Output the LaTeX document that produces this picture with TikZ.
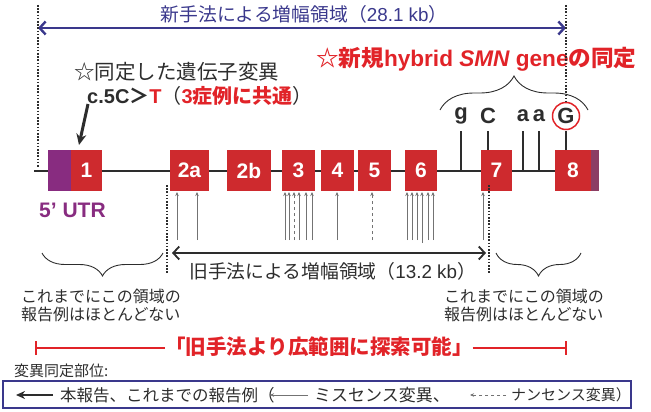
\documentclass[tikz,border=0pt]{standalone}
\usepackage{fontspec}
\setmainfont{Noto Sans CJK JP}
\newfontfamily\lib{Liberation Sans}
\usetikzlibrary{arrows.meta,decorations.pathreplacing,calc,backgrounds}
\definecolor{exred}{RGB}{206,42,46}
\definecolor{utr}{RGB}{136,44,128}
\definecolor{strip}{RGB}{140,62,100}
\definecolor{navy}{RGB}{58,56,140}
\definecolor{txtred}{RGB}{225,35,40}
\definecolor{dk}{RGB}{45,45,45}
\definecolor{mut}{RGB}{115,115,115}
\newcommand{\fs}[1]{\fontsize{#1}{#1}\selectfont}
\tikzset{mybarb/.tip={Straight Barb[length=6pt,width=13pt]}}
\begin{document}
\begin{tikzpicture}[x=1pt,y=-1pt,
  exon/.style={fill=exred,minimum height=41pt,inner sep=0pt,text=white,font=\lib\bfseries\fs{21}},
  utrbox/.style={fill=utr,minimum height=41pt,inner sep=0pt},
  stripbox/.style={fill=strip,minimum height=41pt,inner sep=0pt},
  base/.style={inner sep=0pt,text=dk},
  nt/.style={inner sep=0pt,text=dk,font=\lib\bfseries\fs{22}},
  stem/.style={dk,line width=2.4pt},
  vdots/.style={dk,line width=1.8pt,dash pattern=on 1.6pt off 1.6pt},
  mutarrow/.style={mut,line width=0.9pt,-{Stealth[length=4pt,width=3.5pt]}},
  brc/.style={dk,line width=0.9pt,decorate},
]
\useasboundingbox (0,0) rectangle (651,412);

% ---- exons ----
\node[utrbox,minimum width=23pt] (u1) at (59.5,170.5) {};
\node[exon,minimum width=31pt] (e1) at (86.5,170.5) {1};
\node[exon,minimum width=39pt] (e2a) at (189.5,170.5) {2a};
\node[exon,minimum width=44pt] (e2b) at (249,170.5) {2b};
\node[exon,minimum width=33pt] (e3) at (298.5,170.5) {3};
\node[exon,minimum width=33pt] (e4) at (337.5,170.5) {4};
\node[exon,minimum width=33pt] (e5) at (374.5,170.5) {5};
\node[exon,minimum width=32pt] (e6) at (421,170.5) {6};
\node[exon,minimum width=31pt] (e7) at (496.5,170.5) {7};
\node[exon,minimum width=36pt] (e8) at (573,170.5) {8};
\node[stripbox,minimum width=8pt] (s8) at (595,170.5) {};
\coordinate (bbL) at (34,171);
\begin{scope}[on background layer]
  \draw[dk,line width=2pt] (bbL) -- (e8.west |- bbL);
\end{scope}

% ---- top: new method ----
\coordinate (tL) at (38,5);
\coordinate (tR) at (566,5);
\node[base,text=navy,font=\fs{18.8}] (newlab) at (304,14) {新手法による増幅領域（{\lib 28.1 kb}）};
\draw[navy,line width=2.4pt,{mybarb}-{mybarb}] (38,28) -- (566,28);
\draw[vdots] (tL) -- (38,167);

% ---- identified mutation ----
\node[base,anchor=west,font=\fs{20.5}] (mut1) at (74,72) {☆同定した遺伝子変異};
\node[base,anchor=west,font=\fs{20}] (mut2) at (87,96) {{\lib\bfseries c.5C}\bfseries＞\textcolor{txtred}{\lib\bfseries T}\mdseries（\textcolor{txtred}{\bfseries{\lib 3}症例に共通}）};
\coordinate (m2a) at (88,104);
\coordinate (m2b) at (79,145);
\draw[dk,line width=3pt,-{Stealth[length=11pt,width=10pt]}] (m2a) -- (m2b);

% ---- hybrid gene ----
\node[base,anchor=west,text=txtred,font=\bfseries\fs{22.6}] (hyb) at (316,59) {☆新規{\lib\bfseries hybrid \itshape SMN\upshape\ gene}の同定};
\node[nt] (ng) at (461,116) {g};
\node[nt] (nC) at (488,116) {C};
\node[nt] (na1) at (523,116) {a};
\node[nt] (na2) at (539,116) {a};
\node[nt] (nG) at (566,116) {G};
\draw[txtred,line width=1.5pt] (nG) circle (13.5pt);
\draw[vdots] (tR) -- (566,102);
\draw[brc,decoration={brace,amplitude=34pt}] (440,110) -- (588,110);
\draw[stem] (461,131) -- (461,171);
\draw[stem] (488,131) -- (e7.north -| 488,0);
\draw[stem] (523,131) -- (523,171);
\draw[stem] (539,131) -- (539,171);
\draw[stem] (566,131) -- (e8.north -| 566,0);

% ---- 5' UTR ----
\node[base,anchor=west,text=utr,font=\lib\bfseries\fs{21}] (utrlab) at (39,210) {5’ UTR};

% ---- mutation arrows ----
\foreach \x/\st in {177/solid,197/solid,285/solid,289/solid,294/dashed,299/solid,306/solid,312/solid,337/solid,372/dashed,407/solid,412/solid,417/solid,428/solid,433/solid,483/solid}
  \draw[mutarrow,\st] (\x,240) -- (\x,192);
\draw[mutarrow] (422,243) -- (422,192);

% ---- old method ----
\draw[vdots] (167,185) -- (167,273);
\draw[vdots] (489,185) -- (489,273);
\draw[dk,line width=1.8pt,{mybarb}-{mybarb}] (172,253) -- (486,253);
\node[base,anchor=west,font=\fs{18.8}] (oldlab) at (189,271) {旧手法による増幅領域（{\lib 13.2 kb}）};

% ---- braces and notes ----
\draw[brc,decoration={brace,amplitude=23pt}] (163,253) -- (42,253);
\draw[brc,decoration={brace,amplitude=23pt}] (581,253) -- (496,253);
\node[base,anchor=north west,align=left,font=\fs{16}] (noteL) at (21,289) {これまでにこの領域の\\[2pt]報告例はほとんどない};
\node[base,anchor=north west,align=left,font=\fs{16}] (noteR) at (444,289) {これまでにこの領域の\\[2pt]報告例はほとんどない};

% ---- red range ----
\node[base,text=txtred,font=\bfseries\fs{20.5}] (wide) at (319,347) {「旧手法より広範囲に探索可能」};
\coordinate (rL) at (35,348);
\coordinate (rR) at (567,348);
\draw[txtred,line width=1.8pt,{Bar[width=14pt,line width=2pt]}-] (rL) -- (wide.west |- rL);
\draw[txtred,line width=1.8pt,-{Bar[width=14pt,line width=2pt]}] (wide.east |- rR) -- (rR);

% ---- legend ----
\node[base,anchor=west,font=\fs{15}] (leg) at (14,371) {変異同定部位:};
\draw[navy,line width=1.2pt] (3,381) rectangle (631,408);
\node[base,anchor=west,font=\fs{16.5}] (lg1) at (60,395) {本報告、これまでの報告例（};
\coordinate (a1s) at (53,395);
\coordinate (a1e) at (16,395);
\draw[dk,line width=2.6pt,-{Stealth[length=9pt,width=8pt]}] (a1s) -- (a1e);
\node[base,anchor=west,font=\fs{17}] (lg2) at (314,395) {ミスセンス変異、};
\draw[mutarrow] (308,395) -- (270,395);
\node[base,anchor=west,font=\fs{15}] (lg3) at (511,395) {ナンセンス変異）};
\draw[mutarrow,dashed] (506,395) -- (470,395);
\end{tikzpicture}
\end{document}
